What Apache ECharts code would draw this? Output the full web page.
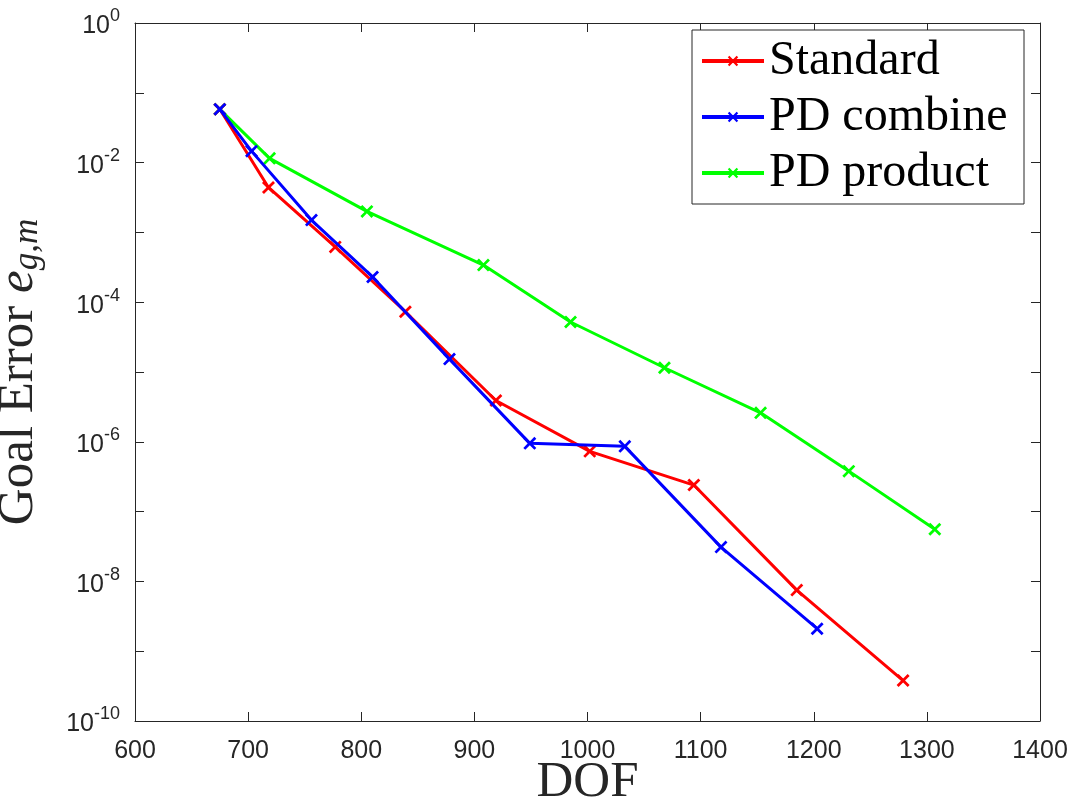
<!DOCTYPE html>
<html>
<head>
<meta charset="utf-8">
<script src="https://cdn.jsdelivr.net/npm/echarts@6/dist/echarts.min.js"></script>
<style>
  html, body { margin: 0; padding: 0; background: #fff; }
  #chart { width: 1073px; height: 809px; }
</style>
</head>
<body>
<div id="chart"></div>
<script>
// series names
const seriesNames = ["Standard", "PD combine", "PD product"];
const seriesColors = ["#ff0000", "#0000ff", "#00ff00"];

// DOF values (x) for each series
const dofStandard = [675, 718, 777, 839, 919, 1002, 1094, 1185, 1279];
const dofCombine = [675, 703, 756, 810, 878, 949, 1033, 1118, 1203];
const dofProduct = [675, 719, 805, 908, 985, 1068, 1153, 1231, 1307];

// goal error values (y)
const errStandard = [5.8e-2, 4.4e-3, 6.2e-4, 7.3e-5, 3.9e-6, 7.3e-7, 2.4e-7, 7.5e-9, 3.8e-10];
const errCombine = [5.8e-2, 1.46e-2, 1.5e-3, 2.3e-4, 1.53e-5, 9.5e-7, 8.6e-7, 3.1e-8, 2.1e-9];
const errProduct = [5.8e-2, 1.15e-2, 2.0e-3, 3.4e-4, 5.2e-5, 1.15e-5, 2.6e-6, 3.8e-7, 5.6e-8];

// axis ranges
const xMin = 600, xMax = 1400, xStep = 100;
const yMin = 1e-10, yMax = 1;

const axisColor = "#262626";
// cross marker (x)
const crossPath = "path://M0,1.5L1.5,0L5,3.5L8.5,0L10,1.5L6.5,5L10,8.5L8.5,10L5,6.5L1.5,10L0,8.5L3.5,5Z";

function pairs(xs, ys) {
    return xs.map((x, i) => [x, ys[i]]);
}

function yLabel(value) {
    const e = Math.round(Math.log10(value));
    if (e % 2 !== 0) return "";
    return "{b|10}{s|" + e + "}";
}

const chart = echarts.init(document.getElementById("chart"), null, { renderer: "canvas" });

const baseX = {
    type: "value",
    min: xMin,
    max: xMax,
    interval: xStep,
    splitLine: { show: false },
    axisLine: { show: true, onZero: false, lineStyle: { color: axisColor, width: 1 } },
    axisTick: { show: true, inside: true, length: 9, lineStyle: { color: axisColor } },
};
const baseY = {
    type: "log",
    logBase: 10,
    min: yMin,
    max: yMax,
    interval: 1,
    splitNumber: 10,
    splitLine: { show: false },
    axisLine: { show: true, onZero: false, lineStyle: { color: axisColor, width: 1 } },
    axisTick: { show: true, inside: true, length: 9, lineStyle: { color: axisColor } },
};

const option = {
    animation: false,
    backgroundColor: "#fff",
    grid: { left: 135, right: 33, top: 23, bottom: 88, containLabel: false, outerBoundsMode: "none" },
    legend: {
        left: 692,
        top: 30,
        orient: "vertical",
        data: seriesNames,
        padding: [7, 10, 7, 8],
        itemGap: 8,
        itemWidth: 62,
        itemHeight: 13,
        borderColor: axisColor,
        borderWidth: 1,
        backgroundColor: "#fff",
        lineStyle: { width: 4 },
        textStyle: {
            fontFamily: "Liberation Serif",
            fontSize: 48,
            color: "#000",
            width: 245,
            lineHeight: 44,
        },
    },
    xAxis: [
        Object.assign({}, baseX, {
            position: "bottom",
            name: "DOF",
            nameLocation: "middle",
            nameGap: 36,
            nameMoveOverlap: false,
            nameTextStyle: { fontFamily: "Liberation Serif", fontSize: 51, color: axisColor },
            axisLabel: {
                margin: 18,
                fontFamily: "Liberation Sans",
                fontSize: 25,
                color: axisColor,
                formatter: (v) => String(v),
            },
        }),
        Object.assign({}, baseX, { position: "top", axisLabel: { show: false } }),
    ],
    yAxis: [
        Object.assign({}, baseY, {
            position: "left",
            name: "Goal Error {e|e}{sub|g,m}",
            nameLocation: "middle",
            nameRotate: 90,
            nameGap: 90,
            nameMoveOverlap: false,
            nameTextStyle: {
                fontFamily: "Liberation Serif",
                fontSize: 51,
                color: axisColor,
                rich: {
                    e: { fontFamily: "Liberation Serif", fontStyle: "italic", fontSize: 51, color: axisColor },
                    sub: { fontFamily: "Liberation Serif", fontStyle: "italic", fontSize: 35, color: axisColor, padding: [18, 0, 0, 0] },
                },
            },
            axisLabel: {
                margin: 15,
                formatter: yLabel,
                rich: {
                    b: { fontFamily: "Liberation Sans", fontSize: 25, color: axisColor, padding: [7, 0, 0, 0] },
                    s: { fontFamily: "Liberation Sans", fontSize: 18, color: axisColor, padding: [0, 0, 13, 0] },
                },
            },
        }),
        Object.assign({}, baseY, { position: "right", axisLabel: { show: false } }),
    ],
    series: [
        [dofStandard, errStandard],
        [dofCombine, errCombine],
        [dofProduct, errProduct],
    ].map((d, i) => ({
        name: seriesNames[i],
        type: "line",
        xAxisIndex: 0,
        yAxisIndex: 0,
        data: pairs(d[0], d[1]),
        symbol: crossPath,
        symbolSize: 13,
        showAllSymbol: true,
        color: seriesColors[i],
        lineStyle: { color: seriesColors[i], width: 3 },
        itemStyle: { color: seriesColors[i] },
        z: 2 + (i === 2 ? -1 : i),
    })),
};

chart.setOption(option);
</script>
</body>
</html>
